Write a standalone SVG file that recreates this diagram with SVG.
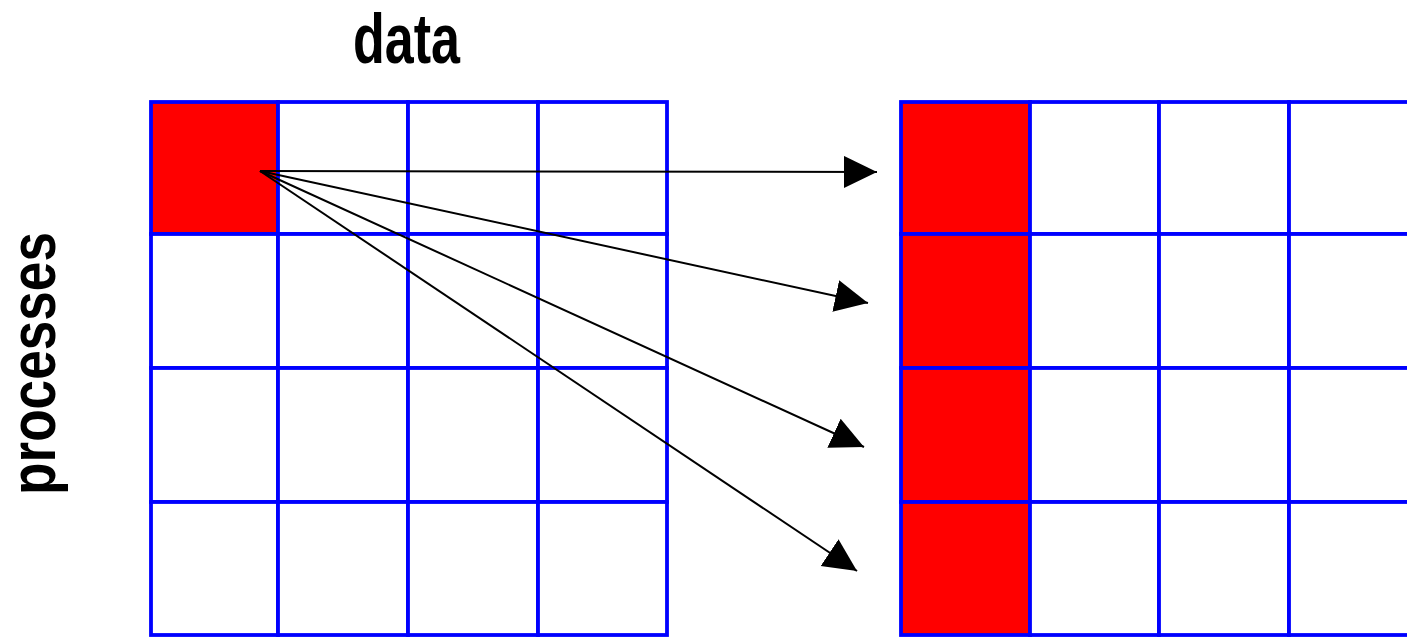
<svg xmlns="http://www.w3.org/2000/svg" width="1407" height="637" viewBox="0 0 1407 637">
  <style>
    .cell { fill: #ffffff; stroke: #0000ff; stroke-width: 3.8; }
    .red { fill: #ff0000; }
    .arrow { stroke: #000000; stroke-width: 2; fill: none; marker-end: url(#head); }
    .label { font-family: "Liberation Sans", Arial, sans-serif; font-weight: bold; fill: #000000; }
  </style>
  <defs>
    <marker id="head" markerUnits="userSpaceOnUse" markerWidth="36" markerHeight="36" refX="33" refY="16" orient="auto" viewBox="0 0 36 36">
      <path d="M0,0 L33,16 L0,32 Z" fill="#000000"/>
    </marker>
  </defs>
  <rect width="1407" height="637" fill="#ffffff"/>

  <g id="label-data">
    <text class="label" x="353" y="63" font-size="70" textLength="107" lengthAdjust="spacingAndGlyphs">data</text>
  </g>
  <g id="label-processes">
    <text class="label" transform="translate(55,495) rotate(-90)" x="0" y="0" font-size="64" textLength="263" lengthAdjust="spacingAndGlyphs">processes</text>
  </g>

  <g id="grid-left">
    <rect class="cell red" x="151" y="102" width="127" height="132"/>
    <rect class="cell" x="278" y="102" width="130" height="132"/>
    <rect class="cell" x="408" y="102" width="130" height="132"/>
    <rect class="cell" x="538" y="102" width="129" height="132"/>
    <rect class="cell" x="151" y="234" width="127" height="134"/>
    <rect class="cell" x="278" y="234" width="130" height="134"/>
    <rect class="cell" x="408" y="234" width="130" height="134"/>
    <rect class="cell" x="538" y="234" width="129" height="134"/>
    <rect class="cell" x="151" y="368" width="127" height="134"/>
    <rect class="cell" x="278" y="368" width="130" height="134"/>
    <rect class="cell" x="408" y="368" width="130" height="134"/>
    <rect class="cell" x="538" y="368" width="129" height="134"/>
    <rect class="cell" x="151" y="502" width="127" height="133"/>
    <rect class="cell" x="278" y="502" width="130" height="133"/>
    <rect class="cell" x="408" y="502" width="130" height="133"/>
    <rect class="cell" x="538" y="502" width="129" height="133"/>
  </g>

  <g id="grid-right">
    <rect class="cell red" x="901" y="102" width="129" height="132"/>
    <rect class="cell" x="1030" y="102" width="129" height="132"/>
    <rect class="cell" x="1159" y="102" width="130" height="132"/>
    <rect class="cell" x="1289" y="102" width="130" height="132"/>
    <rect class="cell red" x="901" y="234" width="129" height="134"/>
    <rect class="cell" x="1030" y="234" width="129" height="134"/>
    <rect class="cell" x="1159" y="234" width="130" height="134"/>
    <rect class="cell" x="1289" y="234" width="130" height="134"/>
    <rect class="cell red" x="901" y="368" width="129" height="134"/>
    <rect class="cell" x="1030" y="368" width="129" height="134"/>
    <rect class="cell" x="1159" y="368" width="130" height="134"/>
    <rect class="cell" x="1289" y="368" width="130" height="134"/>
    <rect class="cell red" x="901" y="502" width="129" height="133"/>
    <rect class="cell" x="1030" y="502" width="129" height="133"/>
    <rect class="cell" x="1159" y="502" width="130" height="133"/>
    <rect class="cell" x="1289" y="502" width="130" height="133"/>
  </g>

  <g id="connectors">
    <line class="arrow" x1="260" y1="171" x2="877" y2="172"/>
    <line class="arrow" x1="260" y1="171" x2="868" y2="303"/>
    <line class="arrow" x1="260" y1="171" x2="864" y2="447"/>
    <line class="arrow" x1="260" y1="171" x2="857" y2="571"/>
  </g>
</svg>
